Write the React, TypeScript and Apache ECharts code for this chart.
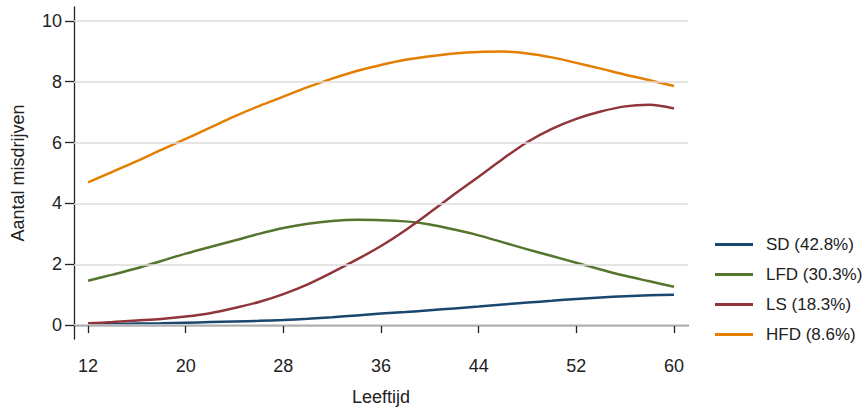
import React, { useEffect, useRef } from "react";
import * as echarts from "echarts";

const ages = [12, 14, 16, 18, 20, 22, 24, 26, 28, 30, 32, 34, 36, 38, 40, 42, 44, 46, 48, 50, 52, 54, 56, 58, 60];
const sd = [0.04, 0.04, 0.05, 0.06, 0.08, 0.1, 0.12, 0.14, 0.17, 0.21, 0.26, 0.32, 0.38, 0.43, 0.49, 0.55, 0.61, 0.68, 0.74, 0.8, 0.86, 0.91, 0.95, 0.98, 1.0];
const lfd = [1.46, 1.66, 1.87, 2.11, 2.35, 2.57, 2.78, 3.0, 3.19, 3.33, 3.42, 3.46, 3.45, 3.41, 3.31, 3.14, 2.95, 2.72, 2.49, 2.27, 2.05, 1.83, 1.62, 1.44, 1.26];
const ls = [0.06, 0.1, 0.15, 0.2, 0.28, 0.39, 0.56, 0.76, 1.02, 1.34, 1.73, 2.15, 2.6, 3.12, 3.7, 4.3, 4.88, 5.47, 6.02, 6.45, 6.78, 7.02, 7.19, 7.24, 7.12];
const hfd = [4.69, 5.04, 5.39, 5.76, 6.12, 6.49, 6.86, 7.2, 7.51, 7.82, 8.1, 8.35, 8.55, 8.72, 8.84, 8.93, 8.98, 8.99, 8.93, 8.8, 8.62, 8.43, 8.23, 8.05, 7.86];
const names = ["SD (42.8%)", "LFD (30.3%)", "LS (18.3%)", "HFD (8.6%)"];
const colors = ["#1a476f", "#55752f", "#90353b", "#e37e00"];
const xTicks = [12, 20, 28, 36, 44, 52, 60];
const yTicks = [0, 2, 4, 6, 8, 10];

const FONT = "'Liberation Sans', Arial, sans-serif";

export default function App() {
  const ref = useRef<HTMLDivElement>(null);
  useEffect(() => {
    if (!ref.current) return;
    const chart = echarts.init(ref.current, undefined, { renderer: "svg" });
    const all = [sd, lfd, ls, hfd];
    const series: any[] = all.map((vals, i) => ({
      name: names[i],
      type: "line",
      smooth: 0.3,
      showSymbol: false,
      symbol: "none",
      data: ages.map((a, j) => [a, vals[j]]),
      lineStyle: { color: colors[i], width: 2.5 },
      itemStyle: { color: colors[i] },
      z: 3,
    }));
    series.push({
      name: "grid",
      type: "line",
      data: [],
      silent: true,
      z: 1,
      markLine: {
        silent: true,
        symbol: "none",
        label: { show: false },
        lineStyle: { color: "#dcdcdc", width: 1.5, type: "solid" },
        data: yTicks.map((v) => ({ yAxis: v })),
      },
    });
    chart.setOption({
      animation: false,
      textStyle: { fontFamily: FONT },
      grid: { left: 74, right: 174, top: 7, bottom: 70 },
      legend: {
        orient: "vertical",
        left: 710,
        top: 231,
        itemWidth: 38,
        itemHeight: 3,
        itemGap: 13,
        icon: "rect",
        data: names,
        textStyle: { fontFamily: FONT, fontSize: 17, color: "#222", padding: [0, 0, 0, 8] },
      },
      xAxis: {
        type: "value",
        min: 10.85,
        max: 61.15,
        name: "Leeftijd",
        nameLocation: "middle",
        nameGap: 49,
        nameTextStyle: { fontFamily: FONT, fontSize: 18, color: "#222" },
        axisLine: { show: true, lineStyle: { color: "#222", width: 1.3 } },
        axisTick: { show: true, length: 8, customValues: xTicks, lineStyle: { color: "#222", width: 1.3 } },
        axisLabel: { customValues: xTicks, fontFamily: FONT, fontSize: 18, color: "#222", margin: 18 },
        splitLine: { show: false },
      },
      yAxis: {
        type: "value",
        min: -0.456,
        max: 10.456,
        name: "Aantal misdrijven",
        nameLocation: "middle",
        nameGap: 47,
        nameTextStyle: { fontFamily: FONT, fontSize: 18, color: "#222" },
        axisLine: { show: true, lineStyle: { color: "#222", width: 1.3 } },
        axisTick: { show: true, length: 9, customValues: yTicks, lineStyle: { color: "#222", width: 1.3 } },
        axisLabel: { customValues: yTicks, fontFamily: FONT, fontSize: 18, color: "#222", margin: 12 },
        splitLine: { show: false },
      },
      series,
    });
    return () => chart.dispose();
  }, []);
  return (
    <div
      ref={ref}
      style={{ position: "absolute", left: 0, top: 0, width: 862, height: 411 }}
    />
  );
}
